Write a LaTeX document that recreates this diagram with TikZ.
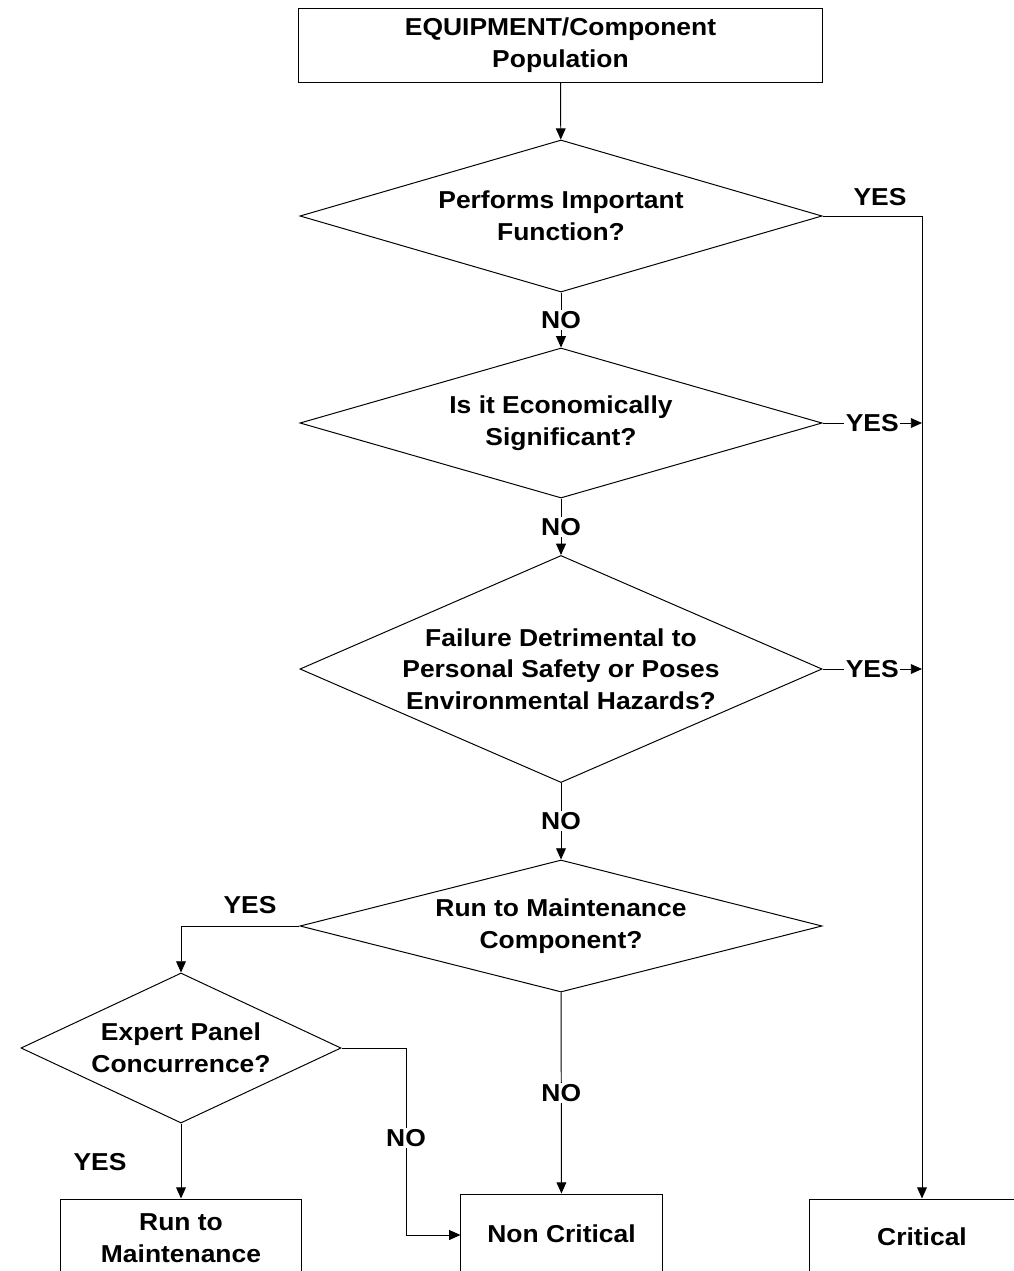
\documentclass[tikz,border=0pt]{standalone}
\usepackage{fontspec}
\setmainfont{Liberation Sans}[FakeStretch=1.08]
\usetikzlibrary{shapes.geometric,arrows.meta}

\begin{document}
\begin{tikzpicture}[
  x=0.025cm, y=-0.025cm,
  every node/.style={font=\fontsize{17.4}{22.5}\selectfont\bfseries},
  box/.style={rectangle, draw, line width=0.7pt, align=center, inner sep=0pt},
  dec/.style={diamond, draw, line width=0.7pt, inner sep=0pt, minimum width=13.05cm},
  dtext/.style={align=center, inner sep=0pt},
  lbl/.style={inner sep=1pt},
  onl/.style={lbl, fill=white},
  flow/.style={-{Triangle[length=8pt, width=7pt]}, line width=0.7pt},
  wire/.style={line width=0.7pt},
]
\useasboundingbox (0,0) rectangle (1014,1271);
\clip (0,0) rectangle (1014,1271);

% --- boxes ---
\node[box, minimum width=13.075cm, minimum height=1.85cm] (pop) at (560.5,45)
  {EQUIPMENT/Component\\Population};
\node[box, minimum width=6cm, minimum height=1.95cm] (rtm) at (181,1238)
  {Run to\\Maintenance};
\node[box, minimum width=5.025cm, minimum height=2cm] (nc) at (561.5,1234)
  {Non Critical};
\node[box, minimum width=5.6cm, minimum height=1.9cm] (crit) at (922,1237)
  {Critical};

% --- decisions ---
\node[dec, minimum height=3.8cm] (d1) at (561,216) {};
\node[dtext] (t1) at (d1) {Performs Important\\Function?};
\node[dec, minimum height=3.75cm] (d2) at (561,423) {};
\node[dtext] (t2) at (d2) {Is it Economically\\Significant?};
\node[dec, minimum height=5.675cm] (d3) at (561,669) {};
\node[dtext] (t3) at (d3) {Failure Detrimental to\\Personal Safety or Poses\\Environmental Hazards?};
\node[dec, minimum height=3.3cm] (d4) at (561,926) {};
\node[dtext] (t4) at (d4) {Run to Maintenance\\Component?};
\node[dec, minimum width=8cm, minimum height=3.75cm] (d5) at (181,1048) {};
\node[dtext] (t5) at (d5) {Expert Panel\\Concurrence?};

% --- main line ---
\draw[flow] (pop) -- (d1);
\draw[flow] (d1) -- node[onl] {NO} (d2);
\draw[flow] (d2) -- node[onl] {NO} (d3);
\draw[flow] (d3) -- node[onl] {NO} (d4);
\draw[flow] (d4) -- node[onl] {NO} (nc);

% --- critical side ---
\draw[flow] (d1.east) -| (crit.north);
\node[lbl] (y1) at (880,197) {YES};
\draw[flow] (d2.east) -- node[onl] {YES} (d2.east -| crit.north);
\draw[flow] (d3.east) -- node[onl] {YES} (d3.east -| crit.north);

% --- run to maintenance side ---
\draw[flow] (d4.west) -| (d5.north);
\node[lbl] (y4) at (250,905) {YES};
\draw[flow] (d5) -- (rtm);
\node[lbl] (y5) at (100,1162) {YES};
\coordinate (c5) at (406,1048);
\coordinate (c6) at (406,1235);
\draw[wire] (d5.east) -- (c5) -- node[onl, pos=0.48] {NO} (c6);
\draw[flow] (c6) -- (c6 -| nc.west);

\end{tikzpicture}
\end{document}
